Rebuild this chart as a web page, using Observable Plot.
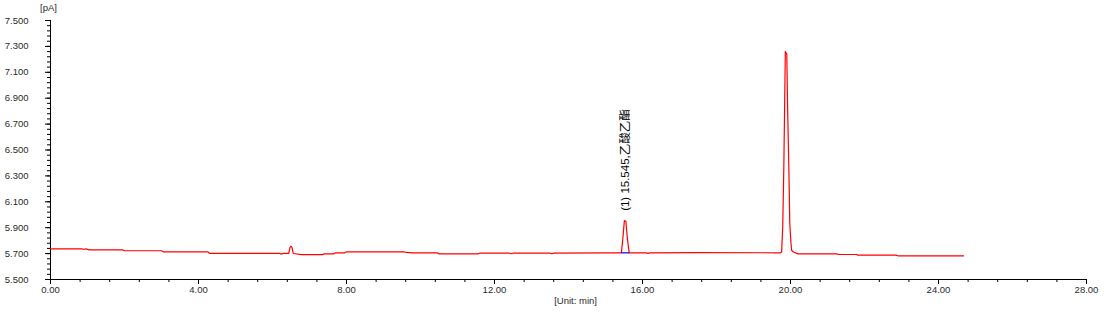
<!DOCTYPE html>
<html>
<head>
<meta charset="utf-8">
<script src="https://cdn.jsdelivr.net/npm/d3@7"></script>
<script src="https://cdn.jsdelivr.net/npm/@observablehq/plot@0.6"></script>
<style>
  html, body { margin: 0; padding: 0; background: #fff; }
  #chart svg { display: block; }
</style>
</head>
<body>
<div id="chart"></div>
<script>
// Retention time (min)
const times = [
  0.00, 0.85, 0.90, 0.95, 1.05, 1.95, 2.00, 3.00, 3.05, 4.25, 4.30,
  6.20, 6.24, 6.28, 6.44, 6.47, 6.50, 6.53, 6.56, 6.78, 7.35, 7.40,
  7.65, 7.70, 7.95, 8.00, 9.55, 9.60, 9.80, 10.45, 10.50, 11.55, 11.60,
  12.40, 12.45, 12.50, 13.50, 13.55, 13.60, 15.10, 15.43, 15.47, 15.51,
  15.55, 15.59, 15.64, 16.10, 16.15, 16.20, 17.50, 19.73, 19.76, 19.79,
  19.82, 19.85, 19.86, 19.88, 19.90, 19.92, 19.96, 19.98, 20.01, 20.03,
  20.08, 20.20, 21.25, 21.30, 21.78, 21.82, 22.85, 22.90, 24.68
];
// Signal (pA)
const signal = [
  5.737, 5.737, 5.732, 5.737, 5.729, 5.729, 5.722, 5.722, 5.714, 5.714, 5.701,
  5.701, 5.696, 5.701, 5.701, 5.745, 5.757, 5.745, 5.701, 5.692, 5.692, 5.698,
  5.698, 5.706, 5.706, 5.714, 5.714, 5.710, 5.706, 5.706, 5.698, 5.698, 5.703,
  5.703, 5.699, 5.703, 5.703, 5.699, 5.704, 5.706, 5.706, 5.820, 5.955,
  5.950, 5.820, 5.706, 5.706, 5.702, 5.706, 5.708, 5.706, 5.712, 5.907,
  6.374, 7.035, 7.261, 7.250, 7.240, 6.854, 6.296, 5.936, 5.790, 5.726,
  5.712, 5.698, 5.698, 5.693, 5.693, 5.688, 5.688, 5.683, 5.683
];

// Peak annotation
const peakTime = [15.545];
const peakLabel = ["(1) 15.545,乙酸乙酯"];
const peakBaseStart = [15.43];
const peakBaseEnd = [15.64];
const peakBaseValue = [5.706];

// Axis ticks
const xMajor = [0, 4, 8, 12, 16, 20, 24, 28];
const yMajor = [5.5, 5.7, 5.9, 6.1, 6.3, 6.5, 6.7, 6.9, 7.1, 7.3, 7.5];
const xMinor = d3.range(0, 36).map(i => +(i * 0.8).toFixed(2)).filter(v => v <= 28);
const yMinor = d3.range(0, 51).map(i => +(5.5 + i * 0.04).toFixed(3));

const data = times.map((t, i) => ({t, v: signal[i]}));
const font = "Liberation Sans, Arial, sans-serif";
const textColor = "#2a2a2a";

const chart = Plot.plot({
  width: 1104,
  height: 313,
  marginLeft: 50,
  marginRight: 18,
  marginTop: 20,
  marginBottom: 34,
  style: {fontFamily: font, fontSize: "9.5px", color: textColor, background: "#fff"},
  x: {domain: [0, 28]},
  y: {domain: [5.5, 7.5]},
  marks: [
    Plot.axisX(xMinor, {tickSize: 3, tickFormat: () => "", stroke: "#000", strokeOpacity: 1}),
    Plot.axisX(xMajor, {tickSize: 5, tickPadding: 2, tickFormat: d => d.toFixed(2), stroke: "#000", strokeOpacity: 1, fill: textColor, label: null}),
    Plot.axisY(yMinor, {tickSize: 3, tickFormat: () => "", stroke: "#000", strokeOpacity: 1}),
    Plot.axisY(yMajor, {tickSize: 5, tickPadding: 17, tickFormat: d => d.toFixed(3), stroke: "#000", strokeOpacity: 1, fill: textColor, label: null}),
    Plot.ruleX([0], {stroke: "#000", strokeWidth: 1}),
    Plot.ruleY([5.5], {stroke: "#000", strokeWidth: 1}),
    Plot.line(data, {x: "t", y: "v", stroke: "#ff0000", strokeWidth: 1.2}),
    Plot.link(peakBaseStart.map((s, i) => ({x1: s, x2: peakBaseEnd[i], y: peakBaseValue[i]})), {
      x1: "x1", x2: "x2", y1: "y", y2: "y", stroke: "#0000ff", strokeWidth: 1.2
    }),
    Plot.text(peakTime.map((t, i) => ({t, label: peakLabel[i]})), {
      x: "t", y: 6.03, text: "label", rotate: -90, textAnchor: "start",
      fontSize: 11.5, fill: "#000", fontFamily: "Liberation Sans, 'Noto Sans CJK SC', sans-serif"
    }),
    Plot.text(["[pA]"], {x: 0, y: 7.5, text: d => d, dy: -13, dx: -2, fontSize: 9.5, fill: textColor}),
    Plot.text(["[Unit: min]"], {x: 14.19, y: 5.5, text: d => d, dy: 21, fontSize: 9.5, fill: textColor})
  ]
});

document.getElementById("chart").appendChild(chart);
</script>
</body>
</html>
